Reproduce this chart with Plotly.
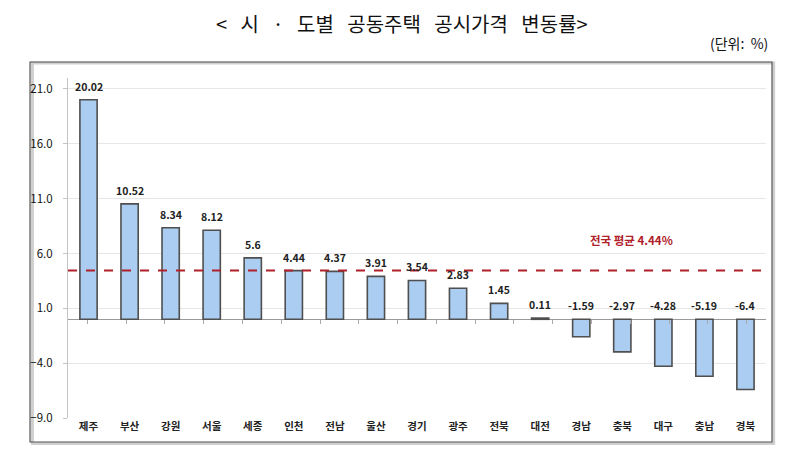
import plotly.graph_objects as go

regions = ["제주", "부산", "강원", "서울", "세종", "인천", "전남", "울산", "경기",
           "광주", "전북", "대전", "경남", "충북", "대구", "충남", "경북"]
changes = [20.02, 10.52, 8.34, 8.12, 5.6, 4.44, 4.37, 3.91, 3.54,
           2.83, 1.45, 0.11, -1.59, -2.97, -4.28, -5.19, -6.4]
label_texts = ["20.02", "10.52", "8.34", "8.12", "5.6", "4.44", "4.37", "3.91", "3.54",
               "2.83", "1.45", "0.11", "-1.59", "-2.97", "-4.28", "-5.19", "-6.4"]
national_avg = 4.44
y_ticks = [21.0, 16.0, 11.0, 6.0, 1.0, -4.0, -9.0]
title_words = ["&lt;", "시", "·", "도별", "공동주택", "공시가격", "변동률&gt;"]

KFONT = "Noto Sans CJK KR"
GAP = "&nbsp;" * 3

fig = go.Figure()
fig.add_trace(go.Bar(
    x=regions, y=changes, width=0.42,
    marker=dict(color="#aacdf1", line=dict(color="#4f4f4f", width=1.6)),
    hoverinfo="x+y",
))
# invisible trace to drive the boundary tick marks on the zero line
fig.add_trace(go.Scatter(x=regions, y=changes, xaxis="x2", mode="markers",
                         marker=dict(opacity=0), hoverinfo="skip"))

for r, v, t in zip(regions, changes, label_texts):
    fig.add_annotation(x=r, y=max(v, 0), text=f"<b>{t}</b>", showarrow=False,
                       yanchor="bottom", yshift=4,
                       font=dict(family=KFONT, size=10.5, color="#222"))

fig.add_shape(type="line", xref="paper", yref="y", x0=0, x1=1.005,
              y0=national_avg, y1=national_avg,
              line=dict(color="#b0202a", width=2, dash="dash"))
fig.add_annotation(xref="paper", yref="y", x=0.87, y=7.2,
                   text=f"<b>전국 평균 {national_avg}%</b>", showarrow=False,
                   font=dict(family=KFONT, size=11.5, color="#b0202a"))

# frame with shadow
fig.add_shape(type="rect", xref="paper", yref="paper",
              x0=-0.051, x1=1.011, y0=-0.075, y1=1.044,
              line=dict(color="#cfcfcf", width=3), layer="below")
fig.add_shape(type="rect", xref="paper", yref="paper",
              x0=-0.0544, x1=1.0086, y0=-0.0706, y1=1.047,
              line=dict(color="#555", width=1.2), layer="below")

fig.add_annotation(xref="paper", yref="paper", x=0.478, y=1.208,
                   xanchor="center", yanchor="top",
                   text=GAP.join(title_words), showarrow=False,
                   font=dict(family=KFONT, size=20, color="#111"))
fig.add_annotation(xref="paper", yref="paper", x=1.0057, y=1.103,
                   xanchor="right", yanchor="middle",
                   text="(단위:&nbsp;&nbsp;%)", showarrow=False,
                   font=dict(family=KFONT, size=14, color="#111"))

fig.update_layout(
    width=800, height=452,
    margin=dict(l=60, r=42, t=70, b=42),
    paper_bgcolor="white", plot_bgcolor="white",
    showlegend=False,
    xaxis=dict(showline=False, ticks="", showgrid=False,
               tickfont=dict(family=KFONT, size=10.5, color="#222"),
               tickprefix="<b>", ticksuffix="</b>"),
    xaxis2=dict(overlaying="x", anchor="free", position=9 / 31,
                showline=False, showgrid=False, showticklabels=False,
                ticks="outside", ticklen=4, tickcolor="#aaaaaa",
                tickson="boundaries", categoryorder="array",
                categoryarray=regions),
    yaxis=dict(range=[-9, 22], tickvals=y_ticks, tickformat=".1f",
               showgrid=True, gridcolor="#e6e6e6", gridwidth=1,
               zeroline=True, zerolinecolor="#9a9a9a", zerolinewidth=1.2,
               showline=True, linecolor="#c4c4c4", linewidth=1,
               ticks="outside", ticklen=4, tickcolor="#c4c4c4",
               ticklabelstandoff=8,
               tickfont=dict(family=KFONT, size=11.5, color="#111"),
               tickprefix="<b>", ticksuffix="</b>"),
)

fig.write_html("out.html")
